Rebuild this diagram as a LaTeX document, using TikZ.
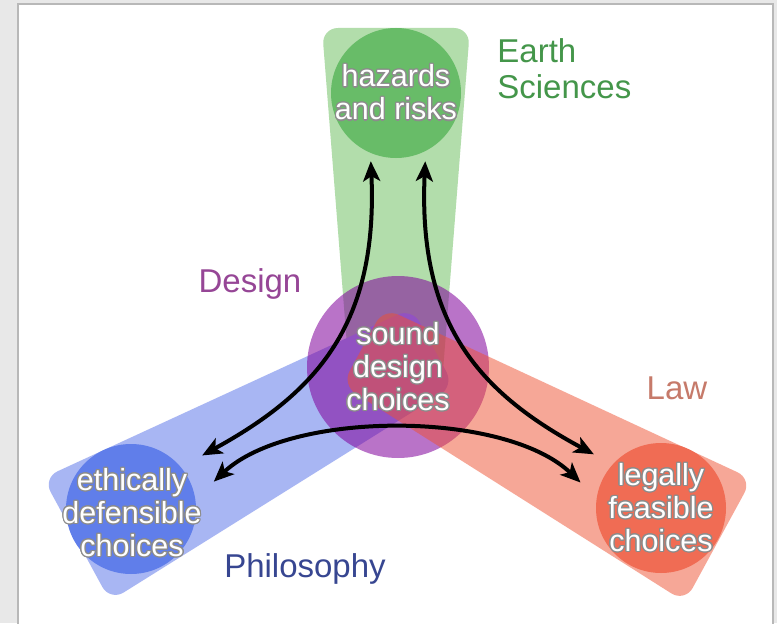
\documentclass[tikz,border=0pt]{standalone}
\usepackage{fontspec}
\setmainfont{Liberation Sans}
\usepackage{contour}
\contourlength{0.6pt}
\contournumber{16}
\usetikzlibrary{arrows.meta}
\definecolor{bandgreen}{RGB}{178,221,171}
\definecolor{discgreen}{RGB}{104,188,104}
\definecolor{bandblue}{RGB}{168,182,243}
\definecolor{discblue}{RGB}{96,126,234}
\definecolor{bandred}{RGB}{239,81,49}
\definecolor{discred}{RGB}{240,108,84}
\definecolor{discpurple}{RGB}{128,0,155}
\definecolor{earthtext}{RGB}{68,150,74}
\definecolor{designtext}{RGB}{150,70,150}
\definecolor{lawtext}{RGB}{198,122,106}
\definecolor{philotext}{RGB}{55,70,145}
\newcommand{\glow}[1]{\contour{black!45}{#1}}
\tikzstyle{band} = [rounded corners=8pt]
\tikzstyle{disc} = [circle, minimum size=65pt, inner sep=0pt]
\tikzstyle{ctext} = [text=white, align=center, inner sep=0pt, font=\fontsize{15.25}{16.5}\selectfont]
\tikzstyle{field} = [inner sep=0pt, font=\fontsize{16.5}{18}\selectfont]
\tikzstyle{link} = [line width=2pt, <->, >={Stealth[length=10pt,width=8.5pt,inset=2.5pt]}]

\begin{document}
\begin{tikzpicture}[x=0.5pt,y=0.5pt]
	\useasboundingbox (0,0) rectangle (777,623);
	\fill[black!9] (0,0) rectangle (777,623);
	\draw[black!28, line width=1pt, fill=white] (18,-5) rectangle (773,619);
	% the three fields, the centre disc between them
	\fill[bandgreen, band] (351,227) -- (322,595) -- (470,595) -- (441,227) -- cycle;
	\fill[bandblue, band] (454,237) -- (110,22) -- (43,145) -- (412,315) -- cycle;
	\node[disc, minimum size=91pt, fill=discpurple, fill opacity=0.55] (sound) at (398,256) {};
	\fill[bandred, band, fill opacity=0.5] (342,238) -- (685,21) -- (752,144) -- (384,315) -- cycle;
	% discs
	\node[disc, fill=discgreen] (haz) at (396,530) {};
	\node[disc, fill=discblue] (eth) at (131,114) {};
	\node[disc, fill=discred] (leg) at (661,115) {};
	% arrows
	\draw[link, shorten <=4pt, shorten >=12pt] (haz.247) .. controls (378,300) and (318,231) .. (eth.40);
	\draw[link, shorten <=5pt, shorten >=10.5pt] (haz.297) .. controls (418,300) and (478,231) .. (leg.138);
	\draw[link, shorten <=12.5pt, shorten >=11pt] (eth.9) .. controls (290,213) and (505,213) .. (leg.171);
	% texts
	\node[ctext] at (haz) {\glow{hazards}\\\glow{and risks}};
	\node[ctext] at (sound) {\glow{sound}\\\glow{design}\\\glow{choices}};
	\node[ctext] at (132,110) {\glow{ethically}\\\glow{defensible}\\\glow{choices}};
	\node[ctext] at (leg) {\glow{legally}\\\glow{feasible}\\\glow{choices}};
	\node[field, text=earthtext, align=left, anchor=north west] (earth) at (497,585) {Earth\\Sciences};
	\node[field, text=designtext, anchor=base] (design) at (250,331) {Design};
	\node[field, text=lawtext, anchor=base] (law) at (677,224) {Law};
	\node[field, text=philotext, anchor=base] (philo) at (305,46) {Philosophy};
\end{tikzpicture}
\end{document}
